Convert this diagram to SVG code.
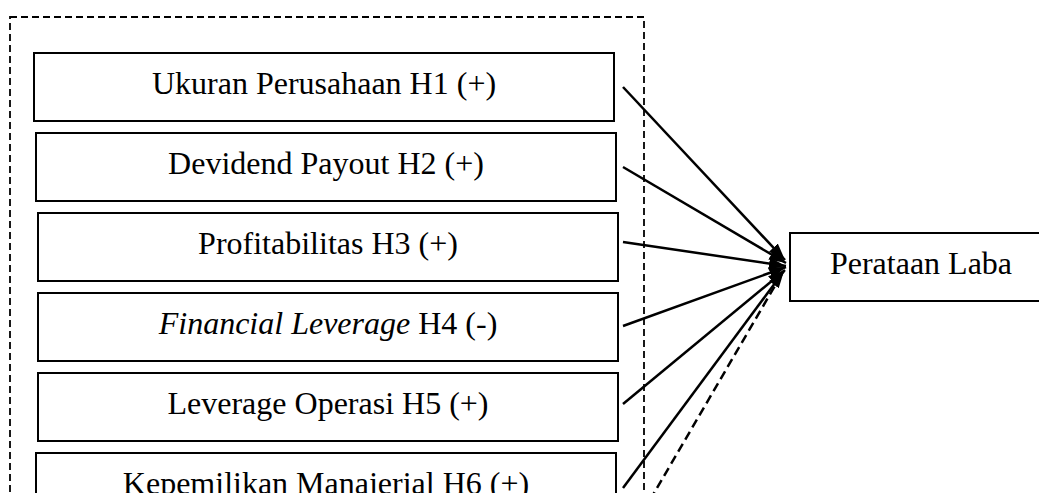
<svg xmlns="http://www.w3.org/2000/svg" width="1039" height="493" viewBox="0 0 1039 493">
<style>
.box{fill:#fff;stroke:#000;stroke-width:2}
.lbl{font-family:"Liberation Serif","Times New Roman",serif;font-size:32px;fill:#000;text-anchor:middle}
.frame{fill:none;stroke:#000;stroke-width:1.8;stroke-dasharray:7 4}
.edge{stroke:#000;stroke-width:2.5;fill:none}
.dash{stroke-dasharray:9 5}
</style>
<defs>
<marker id="ah" markerUnits="userSpaceOnUse" markerWidth="19" markerHeight="13" refX="17" refY="6" orient="auto">
<path d="M0,0 L17,6 L0,12 z" fill="#000"/>
</marker>
</defs>
<rect class="frame" x="10" y="17" width="634" height="500"/>
<g id="n1"><rect class="box" x="34" y="53" width="580" height="68"/><text class="lbl" x="324" y="94">Ukuran Perusahaan H1 (+)</text></g>
<g id="n2"><rect class="box" x="36" y="133" width="580" height="68"/><text class="lbl" x="326" y="174">Devidend Payout H2 (+)</text></g>
<g id="n3"><rect class="box" x="38" y="213" width="580" height="68"/><text class="lbl" x="328" y="254">Profitabilitas H3 (+)</text></g>
<g id="n4"><rect class="box" x="38" y="293" width="580" height="68"/><text class="lbl" x="328" y="334"><tspan font-style="italic">Financial Leverage</tspan> H4 (-)</text></g>
<g id="n5"><rect class="box" x="38" y="373" width="580" height="68"/><text class="lbl" x="328" y="414">Leverage Operasi H5 (+)</text></g>
<g id="n6"><rect class="box" x="36" y="453" width="580" height="68"/><text class="lbl" x="326" y="494">Kepemilikan Manajerial H6 (+)</text></g>
<g id="target"><rect class="box" x="790" y="233" width="262" height="68"/><text class="lbl" x="921" y="274">Perataan Laba</text></g>
<g id="connectors">
<line class="edge" x1="623" y1="87" x2="785" y2="260" marker-end="url(#ah)"/>
<line class="edge" x1="623" y1="167" x2="786" y2="263" marker-end="url(#ah)"/>
<line class="edge" x1="623" y1="242" x2="786" y2="266" marker-end="url(#ah)"/>
<line class="edge" x1="623" y1="326" x2="786" y2="267" marker-end="url(#ah)"/>
<line class="edge" x1="623" y1="404" x2="785" y2="270" marker-end="url(#ah)"/>
<line class="edge" x1="623" y1="488" x2="784" y2="271" marker-end="url(#ah)"/>
<line class="edge dash" x1="650" y1="500" x2="783" y2="272"/>
</g>
</svg>
